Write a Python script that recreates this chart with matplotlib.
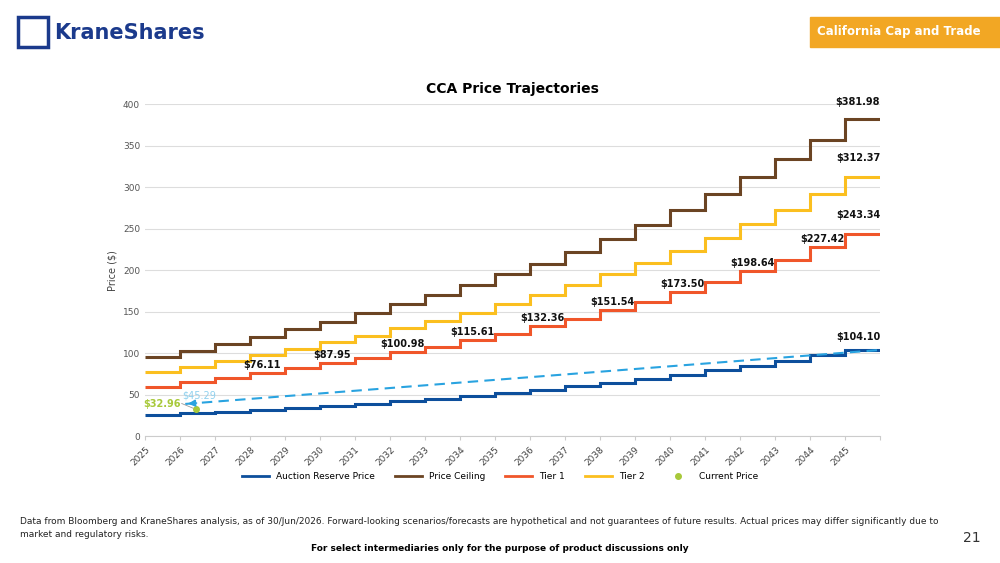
import numpy as np
import matplotlib.pyplot as plt
from matplotlib.lines import Line2D
from matplotlib.patches import Rectangle

years = list(range(2025, 2046))
reserve = [25.9, 27.8, 29.8, 32.0, 34.3, 36.8, 39.5, 42.3, 45.4, 48.7, 52.2,
           56.0, 60.0, 64.4, 69.0, 74.0, 79.4, 85.2, 91.3, 97.9, 104.10]
ceiling = [95, 103, 111, 120, 129, 138, 148, 159, 170, 182, 195,
           208, 222, 238, 255, 273, 292, 312, 334, 357, 381.98]
tier1 = [59.5, 65.0, 70.8, 76.11, 81.8, 87.95, 94.2, 100.98, 108.0, 115.61, 123.7,
         132.36, 141.6, 151.54, 162.2, 173.50, 185.7, 198.64, 212.6, 227.42, 243.34]
tier2 = [77, 84, 90.5, 98, 105, 113, 121, 130, 139, 149, 159.5,
         170.5, 182.5, 195, 209, 223.5, 239, 255.5, 273, 292, 312.37]
fwd_x = [2026.15, 2046]
fwd_y = [39.0, 104.0]
current = (2026.45, 32.96)
tier1_labels = [2028, 2030, 2032, 2034, 2036, 2038, 2040, 2042, 2044]

c_res, c_ceil, c_t1, c_t2 = '#0d4f9c', '#6b4423', '#f0562a', '#fbbf1f'
c_fwd, c_cur = '#29a3e0', '#a8c93a'

fig = plt.figure(figsize=(10, 5.63), dpi=100)
ax = fig.add_axes([0.145, 0.225, 0.735, 0.59])

def stairs(v, c):
    ax.stairs(v, years + [2046], color=c, lw=2.2, baseline=None)

stairs(reserve, c_res)
stairs(ceiling, c_ceil)
stairs(tier1, c_t1)
stairs(tier2, c_t2)
ax.plot(fwd_x, fwd_y, color=c_fwd, ls=(0, (5, 3)), lw=1.5)
ax.annotate('', xy=(fwd_x[0], fwd_y[0]), xytext=(fwd_x[0] + 0.4, fwd_y[0] + 1.3),
            arrowprops=dict(arrowstyle='-|>', color=c_fwd, lw=1.2))
ax.plot(*current, 'o', color=c_cur, ms=4)
ax.plot([2026.05, current[0] - 0.08], [39.5, current[1] + 1], color='#999999', lw=0.6)

bold = dict(fontsize=7, fontweight='bold', color='#111111')
for y in tier1_labels:
    i = years.index(y)
    ax.text(y + 0.35, tier1[i] + 4, f'${tier1[i]:.2f}', ha='center', va='bottom', **bold)
for v, dy in [(tier1[-1], 17), (tier2[-1], 17), (ceiling[-1], 15), (reserve[-1], 10)]:
    ax.text(2046, v + dy, f'${v:.2f}', ha='right', va='bottom', **bold)
ax.text(2024.95, 38.5, f'${current[1]:.2f}', ha='left', va='center',
        fontsize=7, fontweight='bold', color=c_cur)
ax.text(2026.05, 49.5, '$45.29', ha='left', va='center', fontsize=7, color='#8fd0ee')

ax.set_xlim(2025, 2046)
ax.set_ylim(0, 400)
ax.set_yticks(range(0, 401, 50))
ax.set_xticks(range(2025, 2047))
ax.set_xticklabels([str(y) for y in range(2025, 2046)] + [''], rotation=45, ha='right',
                   rotation_mode='anchor', fontsize=6.5, color='#444444')
ax.tick_params(axis='y', length=0, labelsize=6.5, colors='#555555')
ax.tick_params(axis='x', length=3, color='#cccccc')
ax.grid(axis='y', color='#dddddd', lw=0.8)
for s in ['top', 'right', 'left']:
    ax.spines[s].set_visible(False)
ax.spines['bottom'].set_color('#cccccc')
ax.set_axisbelow(True)
ax.set_ylabel('Price ($)', fontsize=7, color='#444444')
ax.set_title('CCA Price Trajectories', fontsize=10, fontweight='bold', pad=8)

handles = [Line2D([], [], color=c_res, lw=2), Line2D([], [], color=c_ceil, lw=2),
           Line2D([], [], color=c_t1, lw=2), Line2D([], [], color=c_t2, lw=2),
           Line2D([], [], color=c_cur, marker='o', ls='', ms=4)]
fig.legend(handles, ['Auction Reserve Price', 'Price Ceiling', 'Tier 1', 'Tier 2', 'Current Price'],
           loc='center', bbox_to_anchor=(0.5, 0.153), ncol=5, frameon=False, fontsize=6.5,
           handlelength=3, columnspacing=2.2)

# header
fig.patches.append(Rectangle((0.018, 0.916), 0.03, 0.053, transform=fig.transFigure,
                             fill=False, ec='#1b3a8c', lw=2.5))
fig.text(0.054, 0.942, 'KraneShares', fontsize=15, fontweight='bold', color='#1b3a8c', va='center')
fig.patches.append(Rectangle((0.81, 0.917), 0.19, 0.053, transform=fig.transFigure,
                             color='#f2a724'))
fig.text(0.899, 0.944, 'California Cap and Trade', fontsize=8.5, fontweight='bold',
         color='white', ha='center', va='center')

# footer
fig.text(0.02, 0.062, 'Data from Bloomberg and KraneShares analysis, as of 30/Jun/2026. Forward-looking '
         'scenarios/forecasts are hypothetical and not guarantees of future results. Actual prices may differ '
         'significantly due to\nmarket and regulatory risks.', fontsize=6.5, color='#222222', va='center',
         linespacing=1.5)
fig.text(0.972, 0.045, '21', fontsize=10, color='#333333', ha='center', va='center')
fig.text(0.5, 0.026, 'For select intermediaries only for the purpose of product discussions only',
         fontsize=6.5, fontweight='bold', ha='center', va='center')

fig.savefig('out.png', dpi=100)
